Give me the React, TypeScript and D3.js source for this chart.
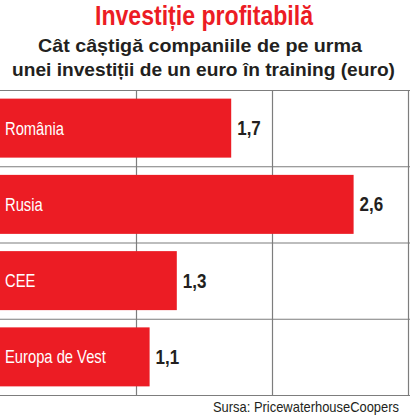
import React from "react";
import * as d3 from "d3";

const categories = ["România", "Rusia", "CEE", "Europa de Vest"];
const values = [1.7, 2.6, 1.3, 1.1];
const valueLabels = ["1,7", "2,6", "1,3", "1,1"];
const gridTicks = [1, 2, 3];

const title = "Investiție profitabilă";
const subtitle1 = "Cât câștigă companiile de pe urma";
const subtitle2 = "unei investiții de un euro în training (euro)";
const source = "Sursa: PricewaterhouseCoopers";

const W = 410;
const H = 419;
const FONT = "'Liberation Sans', Arial, sans-serif";
const RED = "#ec1c24";
const DARK = "#231f20";
const GRID = "#7d7d7d";
const SQ = 0.82;

export default function App() {
  const x = d3.scaleLinear().domain([0, 3]).range([0, 408]);
  const rows = d3.scaleBand<string>().domain(categories).range([90, 395]).padding(0);
  const barH = 59;
  const step = rows.step();
  const lineYs = [90, ...categories.map((c) => (rows(c) as number) + step)];

  return (
    <svg
      width={W}
      height={H}
      style={{ position: "absolute", left: 0, top: 0, background: "#fff" }}
      fontFamily={FONT}
    >
      <rect x={0} y={0} width={W} height={H} fill="#fff" />
      <text x={204} y={25} textAnchor="middle" fontSize={28} fontWeight="bold" fill={RED}
        textLength={218} lengthAdjust="spacingAndGlyphs">{title}</text>
      <text x={200} y={52} textAnchor="middle" fontSize={19} fontWeight="bold" fill={DARK}
        textLength={324} lengthAdjust="spacingAndGlyphs">{subtitle1}</text>
      <text x={203.5} y={76} textAnchor="middle" fontSize={19} fontWeight="bold" fill={DARK}
        textLength={383} lengthAdjust="spacingAndGlyphs">{subtitle2}</text>

      {lineYs.map((y, i) => (
        <line key={"h" + i} x1={0} x2={W} y1={y + 0.5} y2={y + 0.5} stroke={GRID} strokeWidth={1.2} />
      ))}
      {gridTicks.map((t) => (
        <line key={"v" + t} x1={Math.round(x(t)) + 0.5} x2={Math.round(x(t)) + 0.5} y1={90} y2={lineYs[lineYs.length - 1]}
          stroke={GRID} strokeWidth={1.2} />
      ))}

      {categories.map((c, i) => {
        const y0 = (rows(c) as number) + (step - barH) / 2;
        const xe = x(values[i]);
        return (
          <g key={c}>
            <rect x={0} y={y0} width={xe} height={barH} fill={RED} />
            <text transform={`translate(5,${y0 + barH / 2 + 6.5}) scale(${SQ},1)`} fontSize={18} fill="#fff">{c}</text>
            <text transform={`translate(${xe + 6},${y0 + barH / 2 + 7}) scale(0.85,1)`} fontSize={20} fontWeight="bold" fill={DARK}>{valueLabels[i]}</text>
          </g>
        );
      })}

      <text x={399} y={412} textAnchor="end" fontSize={15} fill={DARK}
        textLength={186} lengthAdjust="spacingAndGlyphs">{source}</text>
    </svg>
  );
}
